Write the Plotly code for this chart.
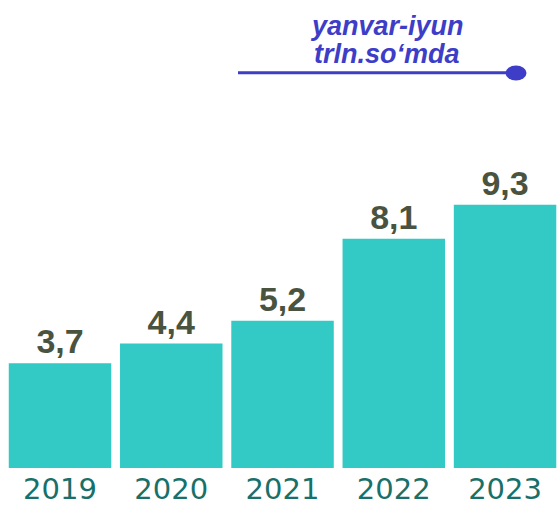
import plotly.graph_objects as go

years = ["2019", "2020", "2021", "2022", "2023"]
values = [3.7, 4.4, 5.2, 8.1, 9.3]
value_labels = ["3,7", "4,4", "5,2", "8,1", "9,3"]
legend_line1 = "yanvar-iyun"
legend_line2 = "trln.so‘mda"

BAR = "#33C9C4"
VAL = "#4A5340"
YEAR = "#18706A"
BLUE = "#3D3DC8"

W, H = 557, 506
ML, MR, MT, MB = 4, 0, 0, 38
PW, PH = W - ML - MR, H - MT - MB

def px(x):
    return (x - ML) / PW

def py(y):
    return (H - MB - y) / PH

fig = go.Figure(go.Bar(
    x=years, y=values, text=value_labels, textposition="outside",
    marker=dict(color=BAR, line=dict(width=0)),
    textfont=dict(family="Liberation Sans", size=34, color=VAL, weight="bold"),
    cliponaxis=False, constraintext="none",
))

fig.add_annotation(x=px(387), y=py(26), xref="paper", yref="paper", text=legend_line1,
                   showarrow=False, xanchor="center", yanchor="middle",
                   font=dict(family="Liberation Sans", size=27, color=BLUE, weight="bold", style="italic"))
fig.add_annotation(x=px(387), y=py(54), xref="paper", yref="paper", text=legend_line2,
                   showarrow=False, xanchor="center", yanchor="middle",
                   font=dict(family="Liberation Sans", size=27, color=BLUE, weight="bold", style="italic"))
fig.add_shape(type="line", xref="paper", yref="paper", x0=px(238), x1=px(512), y0=py(72.7), y1=py(72.7),
              line=dict(color=BLUE, width=3))
fig.add_shape(type="circle", xref="paper", yref="paper", x0=px(505.5), x1=px(526.5), y0=py(80.5), y1=py(65.5),
              fillcolor=BLUE, line=dict(color=BLUE, width=0))

fig.update_layout(
    width=W, height=H, margin=dict(l=ML, r=MR, t=MT, b=MB),
    plot_bgcolor="white", paper_bgcolor="white",
    bargap=0.079, showlegend=False,
    xaxis=dict(showgrid=False, showline=False, zeroline=False, ticks="",
               automargin=False, range=[-0.5034, 4.467],
               ticklabelstandoff=1,
               tickfont=dict(family="DejaVu Sans", size=29, color=YEAR)),
    yaxis=dict(visible=False, range=[0, 16.54], automargin=False),
)
fig.write_html("out.html", config={"displayModeBar": False},
               post_script="document.body.style.margin='0px';document.body.style.overflow='hidden';")
